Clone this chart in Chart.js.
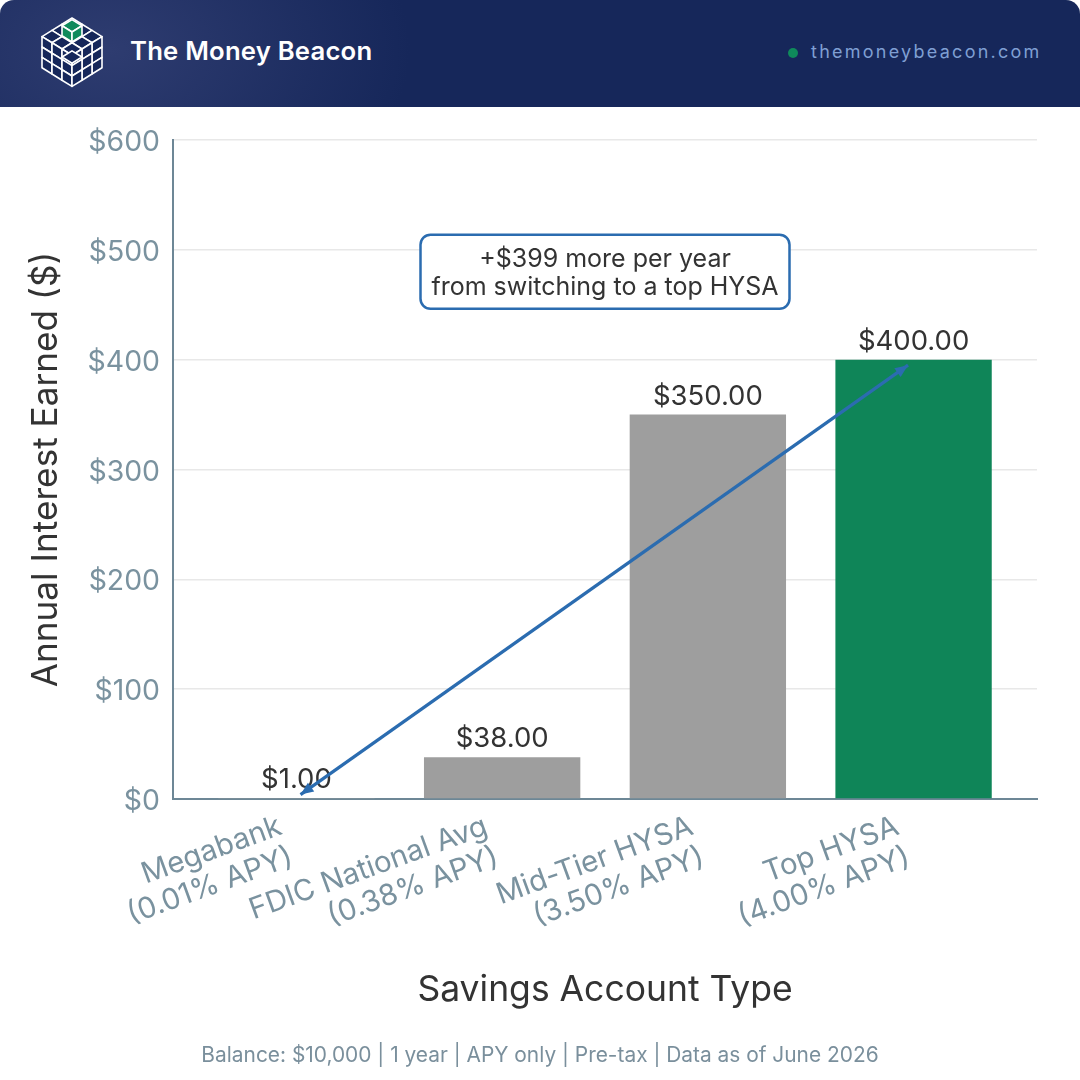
<!DOCTYPE html>
<html>
<head>
<meta charset="utf-8">
<title>Savings Account Interest</title>
<script src="https://cdn.jsdelivr.net/npm/chart.js@4"></script>
<style>
    html, body { margin: 0; padding: 0; background: #fff; }
    #page { position: relative; width: 1080px; height: 1080px; overflow: hidden; font-family: Inter, sans-serif; }
    #header {
        position: absolute; left: 0; top: 0; width: 1080px; height: 107px;
        border-radius: 14px 14px 0 0;
        background: radial-gradient(ellipse 300px 200px at 110px 50px, #2e3c70 0%, #16275a 100%);
    }
    #logo { position: absolute; left: 0; top: 0; }
    #brand { position: absolute; left: 130px; top: 35px; color: #fff; font-size: 25.7px; line-height: 32px; font-weight: 600; letter-spacing: 0.2px; }
    #dot { position: absolute; left: 788px; top: 48px; width: 10px; height: 10px; border-radius: 50%; background: #0f8a5b; }
    #site { position: absolute; left: 811px; top: 40px; color: #7f9fd3; font-size: 18px; line-height: 24px; letter-spacing: 2.25px; }
    #chart { position: absolute; left: 0; top: 107px; }
    #footer { position: absolute; left: 0; top: 1041px; width: 1080px; text-align: center; color: #7a8f9c; font-size: 20.9px; line-height: 28px; }
</style>
</head>
<body>
<div id="page">
    <div id="header">
        <svg id="logo" width="140" height="107"></svg>
        <div id="brand">The Money Beacon</div>
        <div id="dot"></div>
        <div id="site">themoneybeacon.com</div>
    </div>
    <canvas id="chart" width="1080" height="973"></canvas>
    <div id="footer">Balance: $10,000 | 1 year | APY only | Pre-tax | Data as of June 2026</div>
</div>
<script>
const categories = ['Megabank', 'FDIC National Avg', 'Mid-Tier HYSA', 'Top HYSA'];
const apyLabels = ['(0.01% APY)', '(0.38% APY)', '(3.50% APY)', '(4.00% APY)'];
const interest = [1, 38, 350, 400];
const barColors = ['#9e9e9e', '#9e9e9e', '#9e9e9e', '#0f8558'];
const yTicks = [0, 100, 200, 300, 400, 500, 600];
const noteLines = ['+$399 more per year', 'from switching to a top HYSA'];
const arrowFrom = [0.02, 4];
const arrowTo = [2.973, 395];

const TICK_COLOR = '#7a929f';
const AXIS_COLOR = '#6d8796';
const DARK = '#333333';
const BLUE = '#2b6cb0';

// the logo is a 3x3x3 wire cube, built from one isometric corner
function drawLogo() {
    const svg = document.getElementById('logo');
    const top = [72, 18], ux = [10, 6.2], uy = [-10, 6.2], uz = [0, 10.4];
    const pt = (a, b, c) => [top[0] + a * ux[0] + b * uy[0] + c * uz[0], top[1] + a * ux[1] + b * uy[1] + c * uz[1]];
    let out = '';
    const poly = (pts, fill) => {
        out += `<polygon points="${pts.map(p => p.join(',')).join(' ')}" fill="${fill}" stroke="#ffffff" stroke-width="1.6" stroke-linejoin="round"/>`;
    };
    for (let a = 0; a < 3; a++) {
        for (let b = 0; b < 3; b++) {
            poly([pt(a, b, 0), pt(a + 1, b, 0), pt(a + 1, b + 1, 0), pt(a, b + 1, 0)], '#16275a');
        }
    }
    for (let a = 0; a < 3; a++) {
        for (let c = 0; c < 3; c++) {
            poly([pt(a, 3, c), pt(a + 1, 3, c), pt(a + 1, 3, c + 1), pt(a, 3, c + 1)], '#16275a');
            poly([pt(3, a, c), pt(3, a + 1, c), pt(3, a + 1, c + 1), pt(3, a, c + 1)], '#16275a');
        }
    }
    // notch at the front corner
    poly([pt(2, 2, 0.77), pt(3, 2, 0.77), pt(3, 3, 0.77), pt(2, 3, 0.77)], '#16275a');
    // green corner cube
    poly([pt(0, 0, 0.15), pt(1, 0, 0.15), pt(1, 1, 0.15), pt(0, 1, 0.15)], '#0f8a5b');
    poly([pt(0, 1, 0.15), pt(1, 1, 0.15), pt(1, 1, 1.1), pt(0, 1, 1.1)], '#0f8a5b');
    poly([pt(1, 0, 0.15), pt(1, 1, 0.15), pt(1, 1, 1.1), pt(1, 0, 1.1)], '#0f8a5b');
    svg.innerHTML = out;
}

const annotations = {
    id: 'annotations',
    afterDatasetsDraw(chart) {
        const { ctx, scales: { x, y } } = chart;
        ctx.save();

        // value labels
        ctx.font = '27.5px Inter';
        ctx.fillStyle = DARK;
        ctx.textAlign = 'center';
        ctx.textBaseline = 'alphabetic';
        interest.forEach((v, i) => {
            ctx.fillText('$' + v.toFixed(2), x.getPixelForValue(i), y.getPixelForValue(v) - 10);
        });

        // double headed arrow
        const x1 = x.getPixelForValue(arrowFrom[0]), y1 = y.getPixelForValue(arrowFrom[1]);
        const x2 = x.getPixelForValue(arrowTo[0]), y2 = y.getPixelForValue(arrowTo[1]);
        const angle = Math.atan2(y2 - y1, x2 - x1);
        ctx.strokeStyle = BLUE;
        ctx.fillStyle = BLUE;
        ctx.lineWidth = 3.2;
        ctx.beginPath();
        ctx.moveTo(x1, y1);
        ctx.lineTo(x2, y2);
        ctx.stroke();
        [[x1, y1, angle + Math.PI], [x2, y2, angle]].forEach(([hx, hy, a]) => {
            ctx.beginPath();
            ctx.moveTo(hx, hy);
            ctx.lineTo(hx - 14 * Math.cos(a - 0.4), hy - 14 * Math.sin(a - 0.4));
            ctx.lineTo(hx - 14 * Math.cos(a + 0.4), hy - 14 * Math.sin(a + 0.4));
            ctx.closePath();
            ctx.fill();
        });

        // note box, centred on x=1.5 and $480
        const cx = x.getPixelForValue(1.5), cy = y.getPixelForValue(480);
        ctx.beginPath();
        ctx.roundRect(cx - 184.5, cy - 37, 369, 74, 10);
        ctx.fillStyle = '#ffffff';
        ctx.fill();
        ctx.strokeStyle = BLUE;
        ctx.lineWidth = 2.5;
        ctx.stroke();
        ctx.font = '25px Inter';
        ctx.fillStyle = DARK;
        ctx.fillText(noteLines[0], cx, cy - 5);
        ctx.fillText(noteLines[1], cx, cy + 23);
        ctx.restore();
    }
};

drawLogo();

new Chart(document.getElementById('chart'), {
    type: 'bar',
    data: {
        datasets: [{
            data: interest.map((v, i) => ({ x: i, y: v })),
            backgroundColor: barColors,
            barPercentage: 0.76,
            categoryPercentage: 1
        }]
    },
    options: {
        responsive: false,
        animation: false,
        layout: { padding: { top: 33, right: 43 } },
        plugins: { legend: { display: false }, tooltip: { enabled: false } },
        scales: {
            x: {
                type: 'linear',
                offset: false,
                min: -0.6,
                max: 3.6,
                afterFit: s => { s.height = 281; },
                afterBuildTicks: s => { s.ticks = categories.map((_, i) => ({ value: i })); },
                grid: { display: false },
                border: { color: AXIS_COLOR, width: 2 },
                ticks: {
                    autoSkip: false,
                    minRotation: 20,
                    maxRotation: 20,
                    padding: 3,
                    labelOffset: -16,
                    color: TICK_COLOR,
                    font: { family: 'Inter', size: 29.4, lineHeight: 1.12 },
                    callback: v => [categories[v], apyLabels[v]]
                },
                title: {
                    display: true,
                    text: 'Savings Account Type',
                    color: DARK,
                    font: { family: 'Inter', size: 35.5 },
                    padding: { top: 0, bottom: 68 }
                }
            },
            y: {
                min: 0,
                max: 600,
                afterFit: s => { s.width = 173; },
                afterBuildTicks: s => { s.ticks = yTicks.map(v => ({ value: v })); },
                grid: { color: '#e8e8e8', lineWidth: 1.6, drawTicks: false },
                border: { color: AXIS_COLOR, width: 2 },
                ticks: {
                    padding: 13,
                    labelOffset: 2.5,
                    color: TICK_COLOR,
                    font: { family: 'Inter', size: 28.4 },
                    callback: v => '$' + v
                },
                title: {
                    display: true,
                    text: 'Annual Interest Earned ($)',
                    color: DARK,
                    font: { family: 'Inter', size: 35.2 },
                    padding: { top: 25, bottom: 0 }
                }
            }
        }
    },
    plugins: [annotations]
});
</script>
</body>
</html>
